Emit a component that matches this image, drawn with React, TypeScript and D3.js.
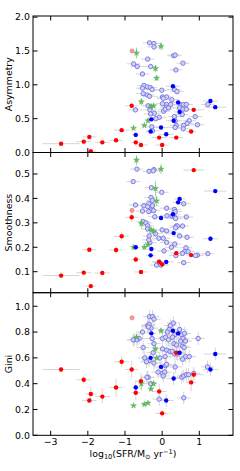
import * as d3 from 'd3'

// ---- data ----
const X_TICKS = [-3, -2, -1, 0, 1]
const ASYM_TICKS = [0, 0.5, 1.0, 1.5, 2.0]
const SMOOTH_TICKS = [0.1, 0.2, 0.3, 0.4, 0.5]
const GINI_TICKS = [0, 0.2, 0.4, 0.6, 0.8, 1.0]

// red filled circles
const redSfr = [-2.72, -2.11, -1.96, -1.92, -1.61, -1.24, -1.09, -0.82, -0.71, -0.57, -0.08, 0.0, 0.38, 0.78, 0.85]
const redSfrErr = [0.5, 0.2, 0.19, 0.15, 0.2, 0.18, 0.2, 0.18, 0.12, 0.18, 0.2, 0.18, 0.18, 0.14, 0.28]
const redAsym = [0.13, 0.16, 0.23, 0.02, 0.15, 0.18, 0.33, 0.69, 0.15, 0.11, 0.22, 0.11, 0.22, 0.31, 0.63]
const redAsymErr = [0.01, 0.01, 0.02, 0.01, 0.01, 0.01, 0.02, 0.02, 0.02, 0.02, 0.02, 0.03, 0.02, 0.02, 0.02]
const redSmooth = [0.084, 0.096, 0.19, 0.041, 0.095, 0.189, 0.245, 0.323, 0.15, 0.099, 0.141, 0.13, 0.176, 0.168, 0.516]
const redSmoothErr = [0.015, 0.005, 0.01, 0.008, 0.012, 0.015, 0.02, 0.02, 0.012, 0.006, 0.01, 0.012, 0.01, 0.008, 0.006]
const redGini = [0.51, 0.43, 0.27, 0.32, 0.30, 0.37, 0.57, 0.51, 0.33, 0.42, 0.34, 0.17, 0.64, 0.41, 0.47]
const redGiniErr = [0.02, 0.03, 0.02, 0.05, 0.05, 0.07, 0.04, 0.07, 0.06, 0.06, 0.06, 0.03, 0.05, 0.07, 0.05]

// faded red circle
const pinkSfr = [-0.81]
const pinkAsym = [1.50]
const pinkSmooth = [0.351]
const pinkGini = [0.91]

// blue filled circles
const blueSfr = [0.29, 0.43, 0.47, 0.31, -0.29, -0.31, -0.03, 0.11, -0.71, 1.30, 1.43]
const blueSfrErr = [0.2, 0.15, 0.15, 0.2, 0.12, 0.12, 0.2, 0.2, 0.1, 0.2, 0.3]
const blueAsym = [0.98, 0.74, 0.60, 0.47, 0.49, 0.31, 0.37, 0.27, 0.26, 0.76, 0.67]
const blueSmooth = [0.335, 0.384, 0.398, 0.258, 0.193, 0.167, 0.32, 0.14, 0.20, 0.235, 0.43]
const blueGini = [0.81, 0.79, 0.64, 0.44, 0.79, 0.60, 0.53, 0.27, 0.37, 0.51, 0.63]

// green stars
const starSfr = [-0.69, -0.03, -0.18, -0.15, -0.56, -0.30, -0.23, -0.38, -0.48, -0.77]
const starAsym = [1.47, 1.57, 1.24, 1.10, 0.75, 0.68, 0.69, 0.47, 0.40, 0.36]
const starAsymErr = [0.08, 0.06, 0.05, 0.04, 0.05, 0.03, 0.03, 0.03, 0.02, 0.03]
const starSmooth = [0.557, 0.52, 0.44, 0.39, 0.297, 0.27, 0.267, 0.21, 0.20, 0.20]
const starSmoothErr = [0.02, 0.02, 0.03, 0.02, 0.02, 0.015, 0.01, 0.01, 0.01, 0.01]
const starGini = [0.76, 0.81, 0.67, 0.60, 0.40, 0.36, 0.40, 0.25, 0.24, 0.23]
const starGiniErr = [0.02, 0.02, 0.02, 0.02, 0.05, 0.02, 0.02, 0.01, 0.01, 0.01]

// open circles [sfr, value]
const openAsym: [number, number][] = [
  [-0.34, 1.62], [-0.22, 1.61], [-0.22, 1.56], [0.31, 1.43], [0.35, 1.44], [-0.39, 1.38], [-0.77, 1.31],
  [-0.67, 1.27], [-0.31, 1.27], [0.56, 1.32], [0.37, 1.22], [-0.53, 1.16],
  [-0.49, 0.99], [-0.53, 0.95], [-0.40, 0.97], [-0.32, 0.96], [-0.27, 0.93], [-0.01, 0.92], [0.33, 0.93], [0.40, 0.90],
  [-0.51, 0.87], [-0.40, 0.85], [-0.34, 0.83], [0.01, 0.82], [0.12, 0.82], [0.26, 0.78],
  [-0.72, 0.63], [-0.38, 0.69], [-0.33, 0.63], [-0.21, 0.58], [-0.31, 0.57],
  [0.01, 0.72], [0.12, 0.71], [0.12, 0.67], [0.23, 0.71], [0.04, 0.61], [0.08, 0.64], [0.17, 0.66],
  [-0.08, 0.52], [0.51, 0.70], [0.57, 0.71], [0.65, 0.71], [0.47, 0.66], [0.56, 0.64], [0.65, 0.64], [0.54, 0.56],
  [0.33, 0.53], [0.35, 0.47], [0.89, 0.53], [0.73, 0.47], [0.67, 0.43], [0.58, 0.40], [0.57, 0.35], [0.38, 0.40],
  [0.35, 0.37], [0.95, 0.41], [-0.28, 0.38], [-0.26, 0.32], [1.23, 0.71], [-0.17, 0.50], [0.03, 0.80],
]
const openSmooth: [number, number][] = [
  [-0.68, 0.52], [-0.35, 0.511], [-0.22, 0.518], [-0.24, 0.513], [-0.78, 0.469], [-0.29, 0.444], [-0.01, 0.425],
  [-0.30, 0.404], [-0.26, 0.392], [-0.72, 0.373], [-0.49, 0.370], [-0.36, 0.378], [-0.39, 0.366], [-0.26, 0.370],
  [-0.30, 0.352], [-0.23, 0.350], [0.12, 0.360], [0.33, 0.355], [0.35, 0.346], [-0.53, 0.348], [-0.36, 0.346],
  [0.58, 0.378], [0.13, 0.329], [0.27, 0.327], [0.33, 0.324], [0.36, 0.318], [0.65, 0.324], [-0.20, 0.325],
  [-0.51, 0.305], [-0.44, 0.300], [-0.39, 0.288], [-0.39, 0.275], [0.0, 0.271], [0.12, 0.267],
  [0.38, 0.287], [0.41, 0.287], [0.36, 0.280], [0.55, 0.287], [-0.18, 0.256], [-0.35, 0.246], [-0.09, 0.237],
  [0.03, 0.237], [0.47, 0.246], [0.67, 0.241], [-0.33, 0.219], [0.12, 0.220], [0.34, 0.213], [0.64, 0.198],
  [0.60, 0.182], [0.55, 0.175], [0.70, 0.182], [0.37, 0.166], [0.95, 0.168], [0.90, 0.166], [1.23, 0.174],
  [0.05, 0.185], [-0.15, 0.127], [-0.08, 0.138], [-0.03, 0.127], [0.58, 0.137], [-0.36, 0.23], [0.25, 0.20],
]
const openGini: [number, number][] = [
  [-0.34, 0.92], [-0.26, 0.92], [-0.22, 0.90], [-0.39, 0.85], [-0.35, 0.86], [-0.30, 0.83], [-0.37, 0.84],
  [-0.53, 0.80], [-0.62, 0.75], [-0.75, 0.74], [-0.68, 0.74], [-0.78, 0.74], [-0.51, 0.68], [-0.22, 0.71],
  [-0.27, 0.75], [0.01, 0.75], [0.30, 0.87], [0.22, 0.85], [0.19, 0.82], [0.34, 0.78], [0.47, 0.82], [0.52, 0.78],
  [0.60, 0.79], [0.56, 0.75], [0.14, 0.80], [0.09, 0.76], [0.17, 0.74], [0.28, 0.76], [0.97, 0.75], [0.32, 0.71],
  [0.39, 0.70], [0.50, 0.73], [0.63, 0.73], [0.55, 0.69], [0.59, 0.68], [0.01, 0.67], [0.12, 0.66], [0.21, 0.65],
  [0.27, 0.65], [0.34, 0.63], [0.41, 0.63], [-0.24, 0.64], [-0.47, 0.60], [-0.35, 0.58], [-0.42, 0.57],
  [-0.22, 0.56], [-0.06, 0.60], [0.08, 0.61], [0.63, 0.61], [0.73, 0.61], [0.55, 0.59], [0.09, 0.54], [0.12, 0.55],
  [-0.11, 0.49], [0.01, 0.48], [0.07, 0.49], [0.03, 0.46], [0.35, 0.53], [-0.38, 0.45], [-0.41, 0.45],
  [0.53, 0.45], [0.58, 0.46], [0.65, 0.47], [0.71, 0.47], [0.85, 0.48], [1.22, 0.53], [-0.31, 0.40],
  [-0.08, 0.28], [0.58, 0.29],
]
const OPEN_SFR_ERR = 0.18
const OPEN_ERR = { asym: 0.02, smooth: 0.01, gini: 0.05 }

// ---- layout ----
const W = 240
const H = 471
const LEFT = 33
const RIGHT = 233
const FONT = 'DejaVu Sans, sans-serif'
const ERR_GREY = '#d6d6d6'

const x = d3.scaleLinear().domain([-3.476, 1.907]).range([LEFT, RIGHT])

type PanelDef = {
  key: 'asym' | 'smooth' | 'gini'
  label: string
  top: number
  bottom: number
  domain: [number, number]
  ticks: number[]
  red: number[]
  redErr: number[]
  pink: number[]
  blue: number[]
  star: number[]
  starErr: number[]
  open: [number, number][]
}

const panels: PanelDef[] = [
  { key: 'asym', label: 'Asymmetry', top: 16, bottom: 152.5, domain: [0, 2.017], ticks: ASYM_TICKS,
    red: redAsym, redErr: redAsymErr, pink: pinkAsym, blue: blueAsym, star: starAsym, starErr: starAsymErr, open: openAsym },
  { key: 'smooth', label: 'Smoothness', top: 152.5, bottom: 292.7, domain: [0.014, 0.588], ticks: SMOOTH_TICKS,
    red: redSmooth, redErr: redSmoothErr, pink: pinkSmooth, blue: blueSmooth, star: starSmooth, starErr: starSmoothErr, open: openSmooth },
  { key: 'gini', label: 'Gini', top: 292.7, bottom: 435.3, domain: [0, 1.105], ticks: GINI_TICKS,
    red: redGini, redErr: redGiniErr, pink: pinkGini, blue: blueGini, star: starGini, starErr: starGiniErr, open: openGini },
]

const starPath = d3.symbol(d3.symbolStar, 11)() as string

function ErrBar({ cx, cy, x0, x1, y0, y1, color }: { cx: number; cy: number; x0: number; x1: number; y0: number; y1: number; color: string }) {
  return (
    <g stroke={color} strokeWidth={1}>
      <line x1={x0} x2={x1} y1={cy} y2={cy} />
      <line x1={cx} x2={cx} y1={y0} y2={y1} />
    </g>
  )
}

function Panel({ p, last }: { p: PanelDef; last: boolean }) {
  const y = d3.scaleLinear().domain(p.domain).range([p.bottom, p.top])
  const clipId = `clip-${p.key}`
  return (
    <g>
      <defs>
        <clipPath id={clipId}>
          <rect x={LEFT} y={p.top} width={RIGHT - LEFT} height={p.bottom - p.top} />
        </clipPath>
      </defs>
      <g clipPath={`url(#${clipId})`}>
        {/* error bars */}
        {p.open.map(([sx, v], i) => (
          <ErrBar key={`oe${i}`} cx={x(sx)} cy={y(v)} x0={x(sx - OPEN_SFR_ERR)} x1={x(sx + OPEN_SFR_ERR)}
            y0={y(v - OPEN_ERR[p.key])} y1={y(v + OPEN_ERR[p.key])} color={ERR_GREY} />
        ))}
        {redSfr.map((sx, i) => (
          <ErrBar key={`re${i}`} cx={x(sx)} cy={y(p.red[i])} x0={x(sx - redSfrErr[i])} x1={x(sx + redSfrErr[i])}
            y0={y(p.red[i] - p.redErr[i])} y1={y(p.red[i] + p.redErr[i])} color={ERR_GREY} />
        ))}
        {blueSfr.map((sx, i) => (
          <ErrBar key={`be${i}`} cx={x(sx)} cy={y(p.blue[i])} x0={x(sx - blueSfrErr[i])} x1={x(sx + blueSfrErr[i])}
            y0={y(p.blue[i] - OPEN_ERR[p.key])} y1={y(p.blue[i] + OPEN_ERR[p.key])} color={ERR_GREY} />
        ))}
        {starSfr.map((sx, i) => (
          <ErrBar key={`se${i}`} cx={x(sx)} cy={y(p.star[i])} x0={x(sx - 0.05)} x1={x(sx + 0.05)}
            y0={y(p.star[i] - p.starErr[i])} y1={y(p.star[i] + p.starErr[i])} color="#99d299" />
        ))}
        {/* markers */}
        {p.open.map(([sx, v], i) => (
          <circle key={`o${i}`} cx={x(sx)} cy={y(v)} r={2.2} fill="#d2d2f6" stroke="#7c7ce6" strokeWidth={1} />
        ))}
        {starSfr.map((sx, i) => (
          <path key={`s${i}`} d={starPath} transform={`translate(${x(sx)},${y(p.star[i])})`}
            fill="#5cb85c" stroke="#4aa84a" strokeWidth={0.4} fillOpacity={0.85} />
        ))}
        {pinkSfr.map((sx, i) => (
          <circle key={`p${i}`} cx={x(sx)} cy={y(p.pink[i])} r={2.1} fill="#f29a9a" stroke="#e07878" strokeWidth={0.6} />
        ))}
        {redSfr.map((sx, i) => (
          <circle key={`r${i}`} cx={x(sx)} cy={y(p.red[i])} r={2.2} fill="#ff0000" />
        ))}
        {blueSfr.map((sx, i) => (
          <circle key={`b${i}`} cx={x(sx)} cy={y(p.blue[i])} r={2.2} fill="#0000ff" />
        ))}
      </g>
      {/* frame */}
      <rect x={LEFT} y={p.top} width={RIGHT - LEFT} height={p.bottom - p.top} fill="none" stroke="#000" strokeWidth={1} />
      {/* x ticks (inward, top & bottom) */}
      {X_TICKS.map((t) => (
        <g key={`xt${t}`} stroke="#000" strokeWidth={1}>
          <line x1={x(t)} x2={x(t)} y1={p.bottom} y2={p.bottom - 4.5} />
          <line x1={x(t)} x2={x(t)} y1={p.top} y2={p.top + 4.5} />
        </g>
      ))}
      {/* y ticks */}
      {p.ticks.map((t) => (
        <g key={`yt${t}`}>
          <line x1={LEFT} x2={LEFT + 4.5} y1={y(t)} y2={y(t)} stroke="#000" />
          <line x1={RIGHT} x2={RIGHT - 4.5} y1={y(t)} y2={y(t)} stroke="#000" />
          <text x={LEFT - 3} y={y(t)} dy="0.35em" textAnchor="end" fontSize={9.4} fontFamily={FONT}>{t.toFixed(1)}</text>
        </g>
      ))}
      <text transform={`translate(9,${(p.top + p.bottom) / 2}) rotate(-90)`} textAnchor="middle" dy="0.35em"
        fontSize={9.4} fontFamily={FONT}>{p.label}</text>
      {last && X_TICKS.map((t) => (
        <text key={`xl${t}`} x={x(t)} y={p.bottom + 10} textAnchor="middle" fontSize={9.4} fontFamily={FONT}>
          {t < 0 ? `\u2212${Math.abs(t)}` : `${t}`}
        </text>
      ))}
    </g>
  )
}

export default function App() {
  return (
    <svg width={W} height={H} style={{ position: 'absolute', left: 0, top: 0, background: '#fff' }}>
      {panels.map((p, i) => (
        <Panel key={p.key} p={p} last={i === panels.length - 1} />
      ))}
      <text x={(LEFT + RIGHT) / 2} y={457} textAnchor="middle" fontSize={9.4} fontFamily={FONT}>
        log<tspan fontSize={6.6} dy={2}>10</tspan>
        <tspan dy={-2}>(SFR/M</tspan>
        <tspan fontSize={6.6} dy={2}>{'\u2299'}</tspan>
        <tspan dy={-2}> yr</tspan>
        <tspan fontSize={6.6} dy={-3.5}>{'\u22121'}</tspan>
        <tspan dy={3.5}>)</tspan>
      </text>
    </svg>
  )
}
